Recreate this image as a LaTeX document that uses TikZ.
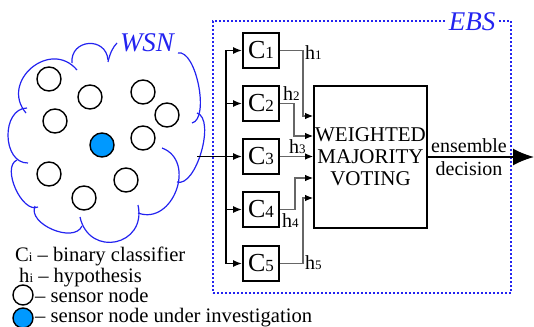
\documentclass[tikz,border=0pt]{standalone}
\usepackage{fontspec}
\setmainfont{Liberation Serif}
\usetikzlibrary{arrows.meta}
\definecolor{wsnblue}{RGB}{35,35,240}
\definecolor{nodeblue}{RGB}{0,153,255}
\begin{document}
\begin{tikzpicture}[x=1pt,y=-1pt,
  clf/.style={draw, line width=1.8pt, minimum width=36pt, minimum height=35pt, inner sep=0pt, font=\fontsize{26}{26}\selectfont},
  sensor/.style={circle, draw, line width=1.4pt, minimum size=24pt, inner sep=0pt},
  hyp/.style={draw=black!60, line width=1.1pt, -{Latex[length=8pt,width=6.5pt,black]}},
  feed/.style={line width=1.6pt, -{Latex[length=9pt,width=7pt]}},
  puff/.style={draw=wsnblue, line width=1.2pt},
  lbl/.style={font=\fontsize{20}{20}\selectfont, inner sep=0pt, anchor=base west},
  leg/.style={font=\fontsize{20.6}{20.6}\selectfont, inner sep=0pt, anchor=base west}]
\useasboundingbox (0,0) rectangle (534,326);
% cloud (open outline made of puffs)
\draw[puff] (178,53) .. controls (196,49) and (210,119) .. (192,123);
\draw[puff] (197,113) .. controls (216,119) and (196,188) .. (177,182);
\draw[puff] (162,148) .. controls (197,161) and (173,226) .. (138,213);
\draw[puff] (138,205) .. controls (147,246) and (89,258) .. (80,217);
\draw[puff] (82,226) .. controls (74,244) and (27,224) .. (35,206);
\draw[puff] (38,207) .. controls (22,214) and (1,167) .. (17,160);
\draw[puff] (28,163) .. controls (2,163.5) and (1,108.5) .. (27,108);
\draw[puff] (26,113) .. controls (-0.6,81.4) and (50.4,38.4) .. (77,70);
\draw[puff] (72,63) .. controls (70,39) and (106,36) .. (108,60);
\draw[puff] (108,62) .. controls (110,53) and (113,47) .. (117,43);
\node[font=\itshape\fontsize{27}{27}\selectfont, text=wsnblue, inner sep=1pt] (wsnl) at (147,43) {WSN};
% sensors
\node[sensor] (s1) at (49,79) {};
\node[sensor] (s2) at (90,97) {};
\node[sensor] (s3) at (143,92) {};
\node[sensor] (s4) at (167,115) {};
\node[sensor] (s5) at (55,121) {};
\node[sensor, fill=nodeblue] (s6) at (102,145) {};
\node[sensor] (s7) at (143,138) {};
\node[sensor] (s8) at (49,174) {};
\node[sensor] (s9) at (126,180) {};
\node[sensor] (s10) at (84,198) {};
% EBS box
\node[draw=wsnblue, line width=1.2pt, dash pattern=on 2pt off 2pt, minimum width=298pt, minimum height=272pt, inner sep=0pt] (ebs) at (362,157) {};
\node[font=\itshape\fontsize{27}{27}\selectfont, text=wsnblue, fill=white, inner sep=2pt] (ebsl) at (472,22) {EBS};
% classifiers
\node[clf] (C1) at (261,50.5) {C{\fontsize{17}{17}\selectfont 1}};
\node[clf] (C2) at (261,103.5) {C{\fontsize{17}{17}\selectfont 2}};
\node[clf] (C3) at (261,156.5) {C{\fontsize{17}{17}\selectfont 3}};
\node[clf] (C4) at (261,209.5) {C{\fontsize{17}{17}\selectfont 4}};
\node[clf] (C5) at (261,263.5) {C{\fontsize{17}{17}\selectfont 5}};
% voting
\node[draw, line width=1.8pt, minimum width=113pt, minimum height=142pt, align=center, font=\fontsize{21}{22}\selectfont, inner sep=0pt] (vote) at (370.5,157) {WEIGHTED\\MAJORITY\\VOTING};
% input and bus
\coordinate (in) at (197,156.5);
\coordinate (bt) at (226,50.5);
\coordinate (bb) at (226,263.5);
\draw[feed] (in) -- (C3);
\draw[line width=1.6pt] (bt) -- (bb);
\draw[feed] (bt) -- (C1);
\draw[feed] (bt |- C2) -- (C2);
\draw[feed] (bt |- C4) -- (C4);
\draw[feed] (bb) -- (C5);
% hypotheses
\coordinate (y1) at (0,116);
\coordinate (y2) at (0,136);
\coordinate (y4) at (0,178);
\coordinate (y5) at (0,198);
\coordinate (x1) at (303,0);
\coordinate (x2) at (294,0);
\coordinate (x4) at (295,0);
\coordinate (x5) at (303,0);
\draw[hyp] (C1.east) -- (x1 |- C1) -- (x1 |- y1) -- (vote.west |- y1);
\draw[hyp] (C2.east) -- (x2 |- C2) -- (x2 |- y2) -- (vote.west |- y2);
\draw[hyp] (C3.east) -- (vote.west |- C3);
\draw[hyp] (C4.east) -- (x4 |- C4) -- (x4 |- y4) -- (vote.west |- y4);
\draw[hyp] (C5.east) -- (x5 |- C5) -- (x5 |- y5) -- (vote.west |- y5);
\node[lbl] (h1) at (305,60) {h{\fontsize{13}{13}\selectfont 1}};
\node[lbl] (h2) at (283,100) {h{\fontsize{13}{13}\selectfont 2}};
\node[lbl] (h3) at (289,153) {h{\fontsize{13}{13}\selectfont 3}};
\node[lbl] (h4) at (282,227) {h{\fontsize{13}{13}\selectfont 4}};
\node[lbl] (h5) at (305,269) {h{\fontsize{13}{13}\selectfont 5}};
% output
\coordinate (out) at (534,157);
\draw[line width=1.6pt, -{Latex[length=21pt,width=17pt]}] (vote.east) -- (out);
\node[font=\fontsize{20}{20}\selectfont, inner sep=0pt, anchor=base] (ens) at (469,152) {ensemble};
\node[font=\fontsize{20}{20}\selectfont, inner sep=0pt, anchor=base] (dec) at (469,175) {decision};
% legend
\node[leg] (lc) at (15,261) {C{\fontsize{13}{13}\selectfont i} – binary classifier};
\node[leg] (lh) at (19,282) {h{\fontsize{13}{13}\selectfont i} – hypothesis};
\node[sensor, minimum size=20pt] (ls1) at (23,295) {};
\node[leg] (lt1) at (35,302) {– sensor node};
\node[sensor, minimum size=20pt, fill=nodeblue] (ls2) at (23,318) {};
\node[leg] (lt2) at (35,322) {– sensor node under investigation};
\end{tikzpicture}
\end{document}
